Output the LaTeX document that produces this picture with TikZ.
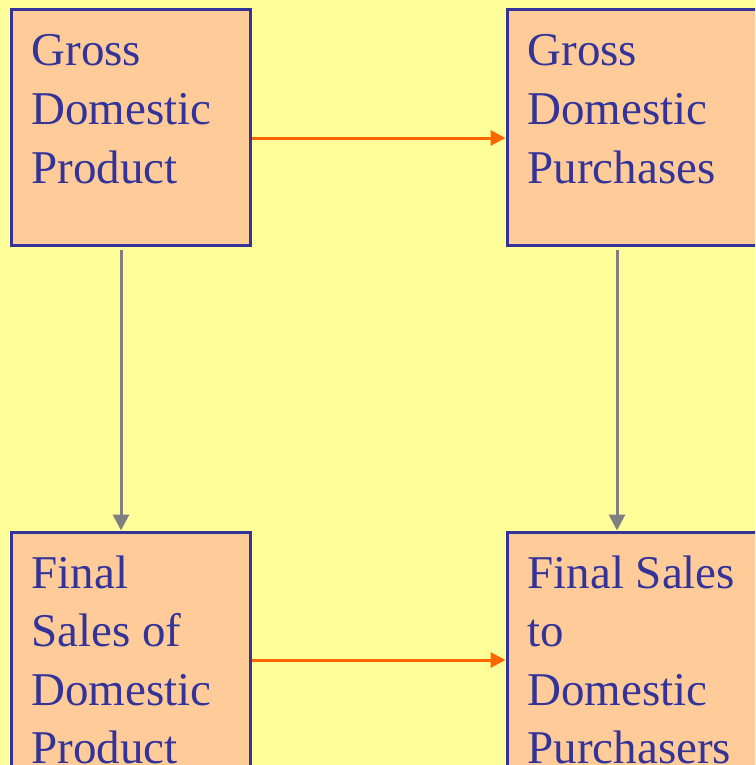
\documentclass[tikz,border=0pt]{standalone}
\usepackage{fontspec}
\setmainfont{Liberation Serif}
\usetikzlibrary{arrows.meta}
\definecolor{bgyellow}{HTML}{FFFF99}
\definecolor{boxfill}{HTML}{FFCC99}
\definecolor{navy}{HTML}{333399}
\definecolor{arrorange}{HTML}{FF6600}
\definecolor{arrgray}{HTML}{808080}
\newcommand{\boxtext}[3]{\parbox[c][#1][t]{#2}{\raggedright\leftskip=20.5pt\fontsize{47pt}{58.5pt}\selectfont\rule{0pt}{56pt}#3}}
\tikzset{
  boxnode/.style={draw=navy, line width=3pt, fill=boxfill, text=navy, inner sep=0pt,
    anchor=north west, rectangle},
  orangearrow/.style={draw=arrorange, line width=3pt, -{Triangle[length=15pt,width=15pt]}},
  grayarrow/.style={draw=arrgray, line width=3pt, -{Triangle[length=16pt,width=16pt]}}
}
\begin{document}
\begin{tikzpicture}[x=1pt, y=-1pt]
\useasboundingbox (0,0) rectangle (755,765);
\clip (0,0) rectangle (755,765);
\fill[bgyellow] (0,0) rectangle (755,765);
\node[boxnode] (tl) at (9.5,8.5) {\boxtext{235pt}{239pt}{Gross\\Domestic\\Product}};
\node[boxnode] (tr) at (505.5,8.5) {\boxtext{235pt}{260pt}{Gross\\Domestic\\Purchases}};
\node[boxnode] (bl) at (9.5,530.5) {\boxtext{260pt}{239pt}{Final\\Sales of\\Domestic\\Product}};
\node[boxnode] (br) at (505.5,530.5) {\boxtext{260pt}{260pt}{Final Sales\\to\\Domestic\\Purchasers}};
\draw[orangearrow] ([yshift=-129.5pt]tl.north east) -- ([yshift=-129.5pt]tr.north west);
\draw[orangearrow] ([yshift=-129.5pt]bl.north east) -- ([yshift=-129.5pt]br.north west);
\draw[grayarrow, shorten <=3pt] ([xshift=111.5pt]tl.south west) -- ([xshift=111.5pt]bl.north west);
\draw[grayarrow, shorten <=3pt] ([xshift=111.5pt]tr.south west) -- ([xshift=111.5pt]br.north west);
\end{tikzpicture}
\end{document}
